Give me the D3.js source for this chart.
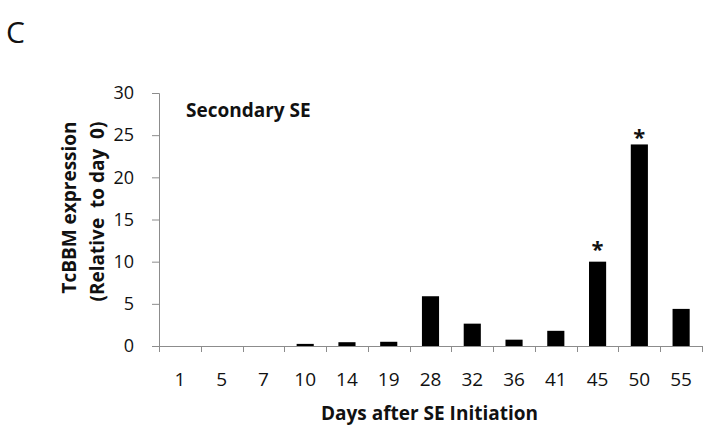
<!DOCTYPE html>
<html>
<head>
<meta charset="utf-8">
<script src="https://cdn.jsdelivr.net/npm/d3@7"></script>
<style>
  body { margin: 0; background: #fff; }
  text { font-family: "Open Sans", sans-serif; fill: #111; }
</style>
</head>
<body>
<svg class="chart"></svg>
<script>
var days = ["1", "5", "7", "10", "14", "19", "28", "32", "36", "41", "45", "50", "55"];
var expression = [0, 0, 0, 0.25, 0.45, 0.5, 5.9, 2.65, 0.75, 1.8, 10, 23.9, 4.4];
var significant = ["45", "50"];
var yTicks = [0, 5, 10, 15, 20, 25, 30];

var data = days.map((d, i) => ({day: d, value: expression[i]}));

// stars sit at slightly different heights above their bars
var starDy = {"45": -5, "50": 1};

var margin = {top: 93, right: 9, bottom: 89, left: 159},
width = 711 - margin.left - margin.right,
height = 435 - margin.top - margin.bottom;

var x = d3.scaleBand().domain(days).range([0, width]).paddingInner(0.59).paddingOuter(0.295);
var y = d3.scaleLinear().domain([0, 30]).range([height, 0]);

var svg = d3.select(".chart")
    .attr("width", 711)
    .attr("height", 435);

svg.append("text")
    .attr("x", 6)
    .attr("y", 43)
    .style("font-size", "30px")
    .text("C");

var chart = svg.append("g")
    .attr("transform", "translate(" + margin.left + "," + margin.top + ")");

// bars
chart.selectAll(".bar")
    .data(data)
  .enter().append("rect")
    .attr("class", "bar")
    .attr("x", d => x(d.day))
    .attr("width", x.bandwidth())
    .attr("y", d => y(d.value))
    .attr("height", d => height - y(d.value))
    .attr("fill", "#000");

// y axis
var yAxis = d3.axisLeft(y).tickValues(yTicks).tickSize(7).tickPadding(18);
var gy = chart.append("g").call(yAxis);
gy.select(".domain").attr("stroke", "#8c8c8c").attr("d", "M-7,0.5H0.5V" + height);
gy.selectAll(".tick line").attr("stroke", "#8c8c8c");
gy.selectAll(".tick text")
    .style("font-family", "'Open Sans', sans-serif")
    .style("font-size", "18px")
    .attr("fill", "#111");

// x axis, ticks between categories
var step = x.step();
var gx = chart.append("g").attr("transform", "translate(0," + height + ")");
gx.append("line")
    .attr("x1", 0).attr("x2", width)
    .attr("y1", 0.5).attr("y2", 0.5)
    .attr("stroke", "#8c8c8c");
gx.selectAll(".xtick")
    .data(d3.range(days.length + 1))
  .enter().append("line")
    .attr("x1", d => Math.round(d * step) + 0.5)
    .attr("x2", d => Math.round(d * step) + 0.5)
    .attr("y1", 0)
    .attr("y2", 6)
    .attr("stroke", "#8c8c8c");
gx.selectAll(".xlabel")
    .data(days)
  .enter().append("text")
    .attr("x", d => x(d) + x.bandwidth() / 2)
    .attr("y", 40)
    .attr("text-anchor", "middle")
    .style("font-size", "19px")
    .text(d => d);

// significance stars
chart.selectAll(".star")
    .data(data.filter(d => significant.includes(d.day)))
  .enter().append("text")
    .attr("x", d => x(d.day) + x.bandwidth() / 2)
    .attr("y", d => y(d.value) + starDy[d.day])
    .attr("text-anchor", "middle")
    .style("font-size", "22px")
    .style("font-weight", "bold")
    .text("*");

chart.append("text")
    .attr("x", 27)
    .attr("y", 24)
    .style("font-size", "19px")
    .style("font-weight", "bold")
    .text("Secondary SE");

chart.append("text")
    .attr("x", width / 2 - 1)
    .attr("y", height + 74)
    .attr("text-anchor", "middle")
    .style("font-size", "19px")
    .style("font-weight", "bold")
    .text("Days after SE Initiation");

var yTitle = chart.append("text")
    .attr("transform", "rotate(-90)")
    .attr("text-anchor", "middle")
    .style("font-size", "19px")
    .style("font-weight", "bold");
yTitle.append("tspan").attr("x", 0 - height / 2 + 12).attr("y", -83).text("TcBBM expression");
yTitle.append("tspan").attr("x", 0 - height / 2 + 8).attr("y", -55).attr("xml:space", "preserve").text("(Relative  to day  0)");
</script>
</body>
</html>
